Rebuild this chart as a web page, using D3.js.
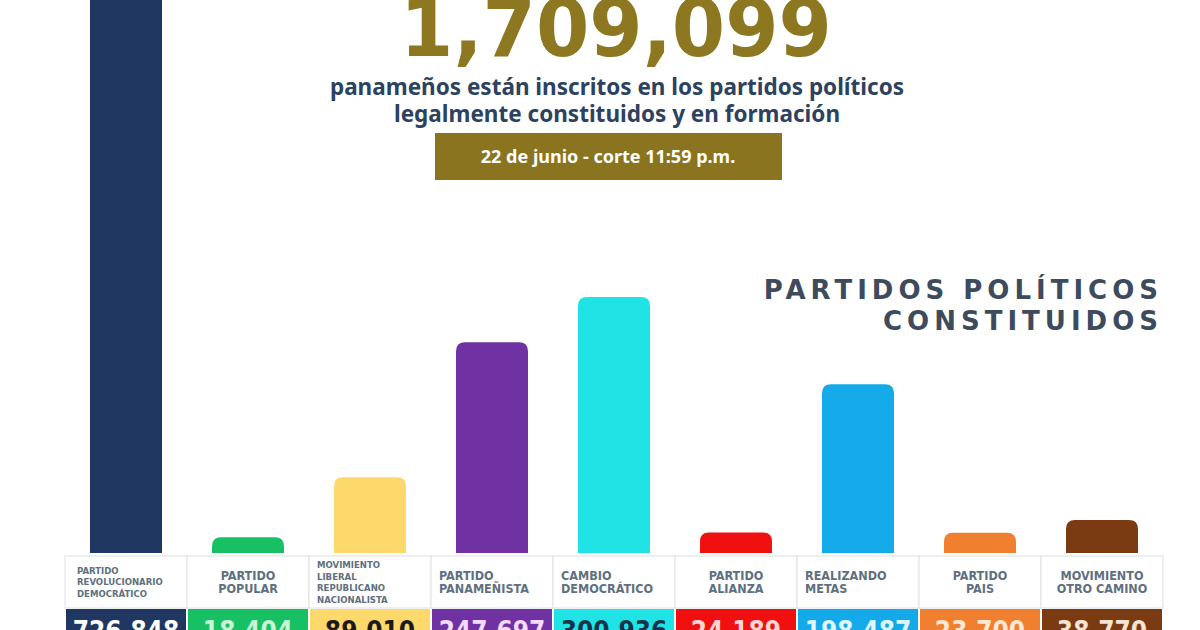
<!DOCTYPE html>
<html>
<head>
<meta charset="utf-8">
<script src="https://cdn.jsdelivr.net/npm/d3@7"></script>
<style>
  html, body { margin: 0; padding: 0; background: #fff; }
  svg { display: block; }
</style>
</head>
<body>
<div id="chart"></div>
<script>
// party names as printed in the header cells (one entry per line)
const parties = [
  ['PARTIDO', 'REVOLUCIONARIO', 'DEMOCRÁTICO'],
  ['PARTIDO', 'POPULAR'],
  ['MOVIMIENTO', 'LIBERAL', 'REPUBLICANO', 'NACIONALISTA'],
  ['PARTIDO', 'PANAMEÑISTA'],
  ['CAMBIO', 'DEMOCRÁTICO'],
  ['PARTIDO', 'ALIANZA'],
  ['REALIZANDO', 'METAS'],
  ['PARTIDO', 'PAIS'],
  ['MOVIMIENTO', 'OTRO CAMINO']
];
const members = [726848, 18404, 89010, 247697, 300936, 24189, 198487, 23700, 38770];
const partyColors = ['#1f3761', '#17c163', '#fdd86a', '#7031a2', '#1fe3e4', '#f0100f', '#14aaea', '#f0802f', '#7a3b12'];
const numberColors = ['#ffffff', '#c9f5d6', '#1a1a1a', '#f3dcff', '#15324a', '#ffd6d6', '#e0f6ff', '#ffe8d6', '#f5e3d3'];
const total = '1,709,099';

const W = 1200, H = 630;
const baseY = 553;

const svg = d3.select('#chart').append('svg').attr('width', W).attr('height', H);

const x = d3.scaleBand().domain(d3.range(parties.length)).range([65, 1163]).paddingInner(0);
const y = d3.scaleLinear().domain([0, 300936]).range([baseY, 297]);
const barW = 72;

// bars with rounded tops
const roundTop = (x0, y0, w, h, r) => {
  r = Math.min(r, h, w / 2);
  return `M${x0},${y0 + h} V${y0 + r} Q${x0},${y0} ${x0 + r},${y0} H${x0 + w - r} Q${x0 + w},${y0} ${x0 + w},${y0 + r} V${y0 + h} Z`;
};

svg.append('g')
  .selectAll('path')
  .data(members)
  .join('path')
  .attr('fill', (d, i) => partyColors[i])
  .attr('d', (d, i) => {
    const cx = x(i) + x.bandwidth() / 2;
    const top = y(d);
    return roundTop(cx - barW / 2, top, barW, baseY - top, 9);
  });

// header cells
const headY = 556, headH = 52;
const head = svg.append('g');
head.selectAll('rect')
  .data(parties)
  .join('rect')
  .attr('x', (d, i) => x(i))
  .attr('y', headY)
  .attr('width', x.bandwidth())
  .attr('height', headH)
  .attr('fill', '#fff')
  .attr('stroke', '#e2e4e6')
  .attr('stroke-width', 1.2);

const leftAligned = new Set([0, 2, 3, 4, 6]);
parties.forEach((lines, i) => {
  const small = lines.length > 2;
  const fs = small ? 9.5 : 12.5;
  const lh = small ? 11.5 : 13;
  const y0 = headY + headH / 2 - ((lines.length - 1) * lh) / 2 + fs * 0.36;
  const left = leftAligned.has(i);
  const t = head.append('text')
    .attr('font-family', '"DejaVu Sans Condensed", "DejaVu Sans", sans-serif')
    .attr('font-weight', 'bold')
    .attr('font-size', fs)
    .attr('fill', '#5e7080')
    .attr('text-anchor', left ? 'start' : 'middle');
  lines.forEach((ln, k) => {
    t.append('tspan')
      .attr('x', left ? x(i) + (i === 0 ? 12 : 8) : x(i) + x.bandwidth() / 2)
      .attr('y', y0 + k * lh)
      .text(ln);
  });
});

// value cells (cut by the bottom edge, as in the source)
const valY = 609;
const vals = svg.append('g');
vals.selectAll('rect')
  .data(members)
  .join('rect')
  .attr('x', (d, i) => x(i) + 1)
  .attr('y', valY)
  .attr('width', x.bandwidth() - 2)
  .attr('height', 60)
  .attr('fill', (d, i) => partyColors[i]);

vals.selectAll('text')
  .data(members)
  .join('text')
  .attr('x', (d, i) => x(i) + x.bandwidth() / 2)
  .attr('y', 640)
  .attr('text-anchor', 'middle')
  .attr('font-family', '"DejaVu Sans Condensed", "DejaVu Sans", sans-serif')
  .attr('font-weight', 'bold')
  .attr('font-size', 26)
  .attr('fill', (d, i) => numberColors[i])
  .text((d) => d3.format(',')(d));

// headline
svg.append('text')
  .attr('x', 616)
  .attr('y', 56)
  .attr('text-anchor', 'middle')
  .attr('font-family', '"DejaVu Sans", sans-serif')
  .attr('font-weight', 'bold')
  .attr('font-size', 80)
  .attr('textLength', 432)
  .attr('lengthAdjust', 'spacingAndGlyphs')
  .attr('fill', '#8d7721')
  .text(total);

const sub = svg.append('text')
  .attr('text-anchor', 'middle')
  .attr('font-family', '"Noto Sans", sans-serif')
  .attr('font-weight', 'bold')
  .attr('font-size', 22.5)
  .attr('fill', '#2c4260');
sub.append('tspan').attr('x', 617).attr('y', 95).text('panameños están inscritos en los partidos políticos');
sub.append('tspan').attr('x', 617).attr('y', 122).text('legalmente constituidos y en formación');

svg.append('rect')
  .attr('x', 435).attr('y', 133)
  .attr('width', 347).attr('height', 47)
  .attr('fill', '#8a7420');
svg.append('text')
  .attr('x', 608).attr('y', 163)
  .attr('text-anchor', 'middle')
  .attr('font-family', '"Noto Sans", sans-serif')
  .attr('font-weight', 'bold')
  .attr('font-size', 18)
  .attr('fill', '#fff')
  .text('22 de junio - corte 11:59 p.m.');

const sect = svg.append('text')
  .attr('text-anchor', 'end')
  .attr('font-family', '"DejaVu Sans", sans-serif')
  .attr('font-weight', 'bold')
  .attr('font-size', 26)
  .attr('letter-spacing', 5)
  .attr('fill', '#3e4b5d');
sect.append('tspan').attr('x', 1163).attr('y', 299).text('PARTIDOS POLÍTICOS');
sect.append('tspan').attr('x', 1163).attr('y', 330).text('CONSTITUIDOS');
</script>
</body>
</html>
